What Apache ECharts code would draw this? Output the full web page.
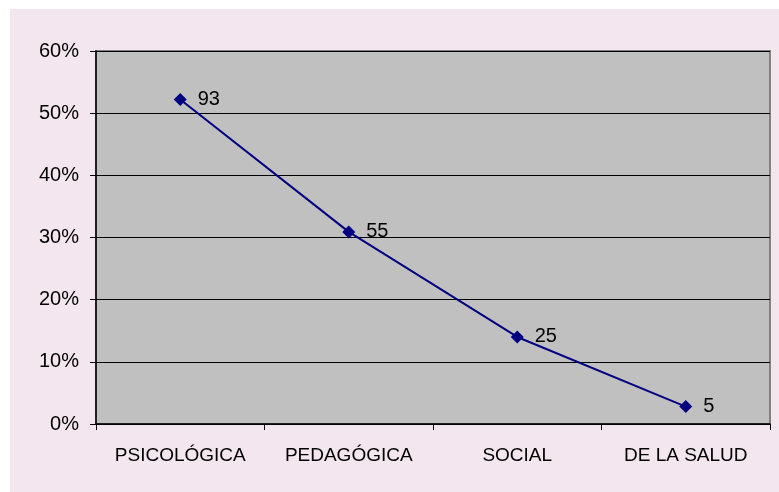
<!DOCTYPE html>
<html>
<head>
<meta charset="utf-8">
<script src="https://cdn.jsdelivr.net/npm/echarts@6/dist/echarts.min.js"></script>
<style>html,body{margin:0;padding:0;background:#fff;}#c{width:779px;height:492px;}</style>
</head>
<body>
<div id="c"></div>
<script>
var categories = ['PSICOLÓGICA', 'PEDAGÓGICA', 'SOCIAL', 'DE LA SALUD'];
var percentValues = [52.2, 30.9, 14.0, 2.8];
var countLabels = [93, 55, 25, 5];
var yTicks = [0, 10, 20, 30, 40, 50, 60];

var chart = echarts.init(document.getElementById('c'), null, {renderer: 'canvas'});
var font = 'Liberation Sans, Arial, sans-serif';
chart.setOption({
  animation: false,
  backgroundColor: '#ffffff',
  graphic: [{
    type: 'rect', z: -10,
    shape: {x: 10, y: 9, width: 769, height: 483},
    style: {fill: '#F3E6EE'}
  }],
  grid: {
    left: 96, top: 51, right: 9, bottom: 68,
    show: true, backgroundColor: '#C0C0C0', borderColor: '#808080', borderWidth: 2
  },
  xAxis: {
    type: 'category',
    data: categories,
    boundaryGap: true,
    axisLine: {lineStyle: {color: '#000000', width: 1.5}},
    axisTick: {show: true, interval: 0, length: 6, lineStyle: {color: '#000000'}},
    axisLabel: {color: '#000000', fontFamily: font, fontSize: 19, margin: 22,
      interval: 0, hideOverlap: false}
  },
  yAxis: {
    type: 'value',
    min: yTicks[0], max: yTicks[yTicks.length - 1], interval: 10,
    axisLine: {show: true, lineStyle: {color: '#000000', width: 1.5}},
    axisTick: {show: true, length: 6, lineStyle: {color: '#000000'}},
    splitLine: {show: true, lineStyle: {color: '#000000', width: 1}},
    axisLabel: {color: '#000000', fontFamily: font, fontSize: 20, margin: 17,
      formatter: function (v) { return v + '%'; }}
  },
  series: [{
    type: 'line',
    data: percentValues,
    symbol: 'diamond',
    symbolSize: 13,
    lineStyle: {color: '#000080', width: 2},
    itemStyle: {color: '#000080'},
    label: {
      show: true, position: 'right', distance: 11,
      color: '#000000', fontFamily: font, fontSize: 20,
      formatter: function (p) { return countLabels[p.dataIndex]; }
    }
  }]
});
</script>
</body>
</html>
